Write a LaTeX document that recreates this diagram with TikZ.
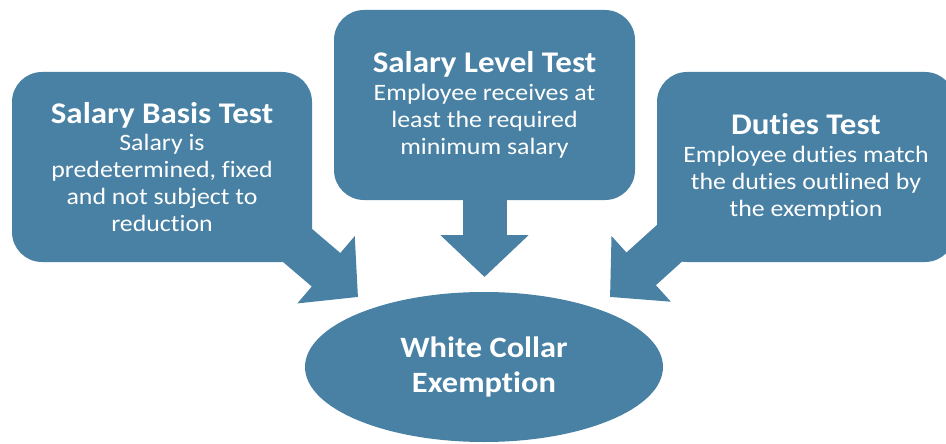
\documentclass[tikz,border=0pt]{standalone}
\usepackage{fontspec}
\setmainfont{Carlito}[FakeStretch=1.1, Ligatures=NoCommon]
\usetikzlibrary{shapes,arrows.meta,positioning}
\definecolor{testblue}{RGB}{72,129,163}
\newcommand{\testtitle}[1]{{\fontsize{30}{31}\selectfont\bfseries #1}}
\tikzstyle{testbox} = [fill=testblue, text=white, rectangle, rounded corners=30pt, align=center, minimum height=190pt, inner sep=0pt, font=\fontsize{23.5}{27.2}\selectfont]
\tikzstyle{blockarrow} = [draw=testblue, line width=44pt, -{Triangle[length=42pt, width=86pt]}]
\tikzstyle{goal} = [ellipse, fill=testblue, text=white, minimum width=358pt, minimum height=150pt, inner sep=0pt, align=center, font=\fontsize{29.5}{35}\selectfont\bfseries]

\begin{document}
\begin{tikzpicture}[x=1pt, y=-1pt]
	\useasboundingbox (0,0) rectangle (946,444);
	% arrow ends
	\coordinate (basistip) at (358,297);
	\coordinate (basisfrom) at (263,216);
	\coordinate (leveltip) at (484.5,277);
	\coordinate (dutiestip) at (610,297);
	\coordinate (dutiesfrom) at (703,213);
	% block arrows
	\draw[blockarrow] (basisfrom) -- (basistip);
	\draw[blockarrow] (484.5,105) -- (leveltip);
	\draw[blockarrow] (dutiesfrom) -- (dutiestip);
	% the three tests
	\node[testbox, minimum width=300pt] (basis) at (162,167) {\testtitle{Salary Basis Test}\\ Salary is\\ predetermined, fixed\\ and not subject to\\ reduction};
	\node[testbox, minimum width=301pt] (level) at (484.5,105) {\testtitle{Salary Level Test}\\ Employee receives at\\ least the required\\ minimum salary};
	\node[testbox, minimum width=298pt] (duties) at (806,167) {\testtitle{Duties Test}\\ Employee duties match\\ the duties outlined by\\ the exemption};
	% exemption
	\node[goal] (exempt) at (484,367) {White Collar\\ Exemption};
\end{tikzpicture}
\end{document}
